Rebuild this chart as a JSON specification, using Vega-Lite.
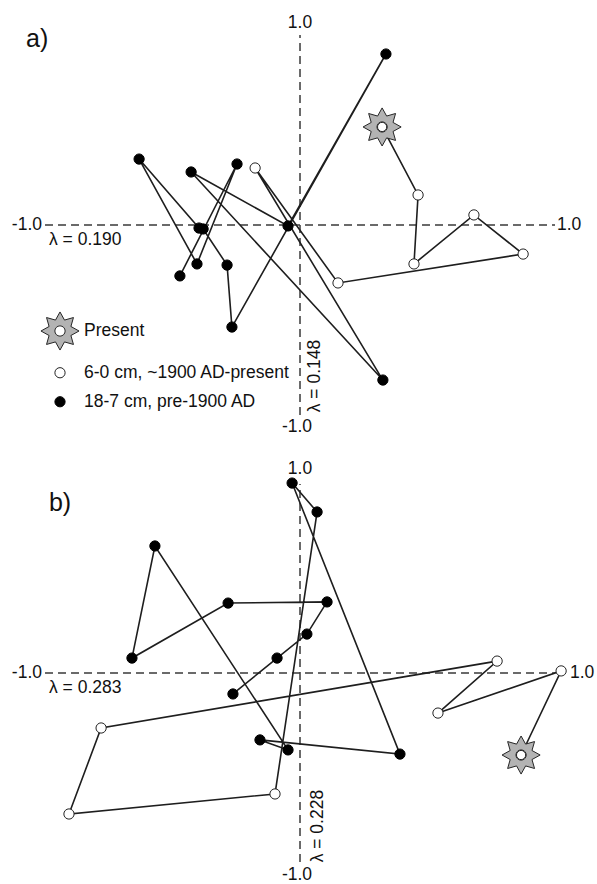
{
  "$schema": "https://vega.github.io/schema/vega-lite/v6.json",
  "padding": 0,
  "spacing": 0,
  "bounds": "flush",
  "background": "white",
  "config": {
    "view": {"stroke": null},
    "text": {"font": "Liberation Sans", "fontSize": 17.5, "color": "#111"},
    "rule": {"color": "#3a3a3a", "strokeWidth": 1.5, "strokeDash": [8, 5]},
    "line": {"color": "#1e1e1e", "strokeWidth": 1.6},
    "legend": {"orient": "none", "legendX": 40, "legendY": 311, "title": null, "padding": 0, "labelFont": "Liberation Sans", "labelFontSize": 17.5, "labelColor": "#111", "labelOffset": 4, "labelLimit": 400, "rowPadding": 10, "symbolStrokeWidth": 1}
  },
  "datasets": {
    "a": [
      {"depth": 18, "x": -0.471, "y": -0.268, "cat": "18-7 cm, pre-1900 AD"},
      {"depth": 17, "x": -0.247, "y": 0.321, "cat": "18-7 cm, pre-1900 AD"},
      {"depth": 16, "x": -0.404, "y": -0.205, "cat": "18-7 cm, pre-1900 AD"},
      {"depth": 15, "x": -0.631, "y": 0.347, "cat": "18-7 cm, pre-1900 AD"},
      {"depth": 14, "x": -0.396, "y": -0.016, "cat": "18-7 cm, pre-1900 AD"},
      {"depth": 13, "x": -0.380, "y": -0.021, "cat": "18-7 cm, pre-1900 AD"},
      {"depth": 12, "x": -0.286, "y": -0.211, "cat": "18-7 cm, pre-1900 AD"},
      {"depth": 11, "x": -0.267, "y": -0.537, "cat": "18-7 cm, pre-1900 AD"},
      {"depth": 10, "x": 0.337, "y": 0.900, "cat": "18-7 cm, pre-1900 AD"},
      {"depth": 9, "x": -0.047, "y": -0.005, "cat": "18-7 cm, pre-1900 AD"},
      {"depth": 8, "x": -0.427, "y": 0.279, "cat": "18-7 cm, pre-1900 AD"},
      {"depth": 7, "x": 0.325, "y": -0.816, "cat": "18-7 cm, pre-1900 AD"},
      {"depth": 6, "x": -0.176, "y": 0.300, "cat": "6-0 cm, ~1900 AD-present"},
      {"depth": 5, "x": 0.149, "y": -0.305, "cat": "6-0 cm, ~1900 AD-present"},
      {"depth": 4, "x": 0.875, "y": -0.153, "cat": "6-0 cm, ~1900 AD-present"},
      {"depth": 3, "x": 0.682, "y": 0.053, "cat": "6-0 cm, ~1900 AD-present"},
      {"depth": 2, "x": 0.447, "y": -0.205, "cat": "6-0 cm, ~1900 AD-present"},
      {"depth": 1, "x": 0.463, "y": 0.158, "cat": "6-0 cm, ~1900 AD-present"},
      {"depth": 0, "x": 0.322, "y": 0.516, "cat": "Present"}
    ],
    "b": [
      {"depth": 18, "x": -0.263, "y": -0.111, "cat": "18-7 cm, pre-1900 AD"},
      {"depth": 17, "x": -0.090, "y": 0.079, "cat": "18-7 cm, pre-1900 AD"},
      {"depth": 16, "x": 0.027, "y": 0.206, "cat": "18-7 cm, pre-1900 AD"},
      {"depth": 15, "x": 0.106, "y": 0.376, "cat": "18-7 cm, pre-1900 AD"},
      {"depth": 14, "x": -0.282, "y": 0.370, "cat": "18-7 cm, pre-1900 AD"},
      {"depth": 13, "x": -0.659, "y": 0.079, "cat": "18-7 cm, pre-1900 AD"},
      {"depth": 12, "x": -0.569, "y": 0.672, "cat": "18-7 cm, pre-1900 AD"},
      {"depth": 11, "x": -0.047, "y": -0.407, "cat": "18-7 cm, pre-1900 AD"},
      {"depth": 10, "x": -0.157, "y": -0.354, "cat": "18-7 cm, pre-1900 AD"},
      {"depth": 9, "x": 0.392, "y": -0.429, "cat": "18-7 cm, pre-1900 AD"},
      {"depth": 8, "x": -0.031, "y": 1.005, "cat": "18-7 cm, pre-1900 AD"},
      {"depth": 7, "x": 0.067, "y": 0.852, "cat": "18-7 cm, pre-1900 AD"},
      {"depth": 6, "x": -0.098, "y": -0.640, "cat": "6-0 cm, ~1900 AD-present"},
      {"depth": 5, "x": -0.906, "y": -0.746, "cat": "6-0 cm, ~1900 AD-present"},
      {"depth": 4, "x": -0.780, "y": -0.291, "cat": "6-0 cm, ~1900 AD-present"},
      {"depth": 3, "x": 0.773, "y": 0.063, "cat": "6-0 cm, ~1900 AD-present"},
      {"depth": 2, "x": 0.541, "y": -0.212, "cat": "6-0 cm, ~1900 AD-present"},
      {"depth": 1, "x": 1.024, "y": 0.011, "cat": "6-0 cm, ~1900 AD-present"},
      {"depth": 0, "x": 0.867, "y": -0.434, "cat": "Present"}
    ]
  },
  "vconcat": [
    {
      "width": 597,
      "height": 442,
      "layer": [
        {"data": {"values": [{}]}, "mark": "rule",
         "encoding": {"x": {"datum": -1, "scale": {"domain": [-1.1765, 1.1647], "nice": false, "zero": false}, "axis": null}, "x2": {"datum": 1},
                      "y": {"datum": 0, "scale": {"domain": [-1.1421, 1.1842], "nice": false, "zero": false}, "axis": null}}},
        {"data": {"values": [{}]}, "mark": "rule",
         "encoding": {"x": {"datum": 0, "scale": {"domain": [-1.1765, 1.1647], "nice": false, "zero": false}, "axis": null},
                      "y": {"datum": -1, "scale": {"domain": [-1.1421, 1.1842], "nice": false, "zero": false}, "axis": null}, "y2": {"datum": 1}}},
        {"data": {"name": "a"}, "mark": "line",
         "encoding": {"x": {"field": "x", "type": "quantitative", "scale": {"domain": [-1.1765, 1.1647], "nice": false, "zero": false}, "axis": null},
                      "y": {"field": "y", "type": "quantitative", "scale": {"domain": [-1.1421, 1.1842], "nice": false, "zero": false}, "axis": null},
                      "order": {"field": "depth", "type": "quantitative"}}},
        {"data": {"name": "a"}, "mark": {"type": "point", "filled": true, "opacity": 1, "strokeWidth": 1},
         "encoding": {"x": {"field": "x", "type": "quantitative", "scale": {"domain": [-1.1765, 1.1647], "nice": false, "zero": false}, "axis": null},
                      "y": {"field": "y", "type": "quantitative", "scale": {"domain": [-1.1421, 1.1842], "nice": false, "zero": false}, "axis": null},
                      "fill": {"field": "cat", "type": "nominal", "scale": {"domain": ["Present", "6-0 cm, ~1900 AD-present", "18-7 cm, pre-1900 AD"], "range": ["#b3b3b3", "#ffffff", "#000000"]}},
                      "stroke": {"field": "cat", "type": "nominal", "scale": {"domain": ["Present", "6-0 cm, ~1900 AD-present", "18-7 cm, pre-1900 AD"], "range": ["#262626", "#222222", "#000000"]}},
                      "shape": {"field": "cat", "type": "nominal", "scale": {"domain": ["Present", "6-0 cm, ~1900 AD-present", "18-7 cm, pre-1900 AD"], "range": ["M0,-1L0.237,-0.573L0.707,-0.707L0.573,-0.237L1,0L0.573,0.237L0.707,0.707L0.237,0.573L0,1L-0.237,0.573L-0.707,0.707L-0.573,0.237L-1,0L-0.573,-0.237L-0.707,-0.707L-0.237,-0.573ZM0.27,0A0.27,0.27 0 1,0 -0.27,0A0.27,0.27 0 1,0 0.27,0Z", "circle", "circle"]}},
                      "size": {"field": "cat", "type": "nominal", "scale": {"type": "ordinal", "domain": ["Present", "6-0 cm, ~1900 AD-present", "18-7 cm, pre-1900 AD"], "range": [1450, 105, 105]}}}},
        {"data": {"name": "a"}, "transform": [{"filter": "datum.cat === 'Present'"}],
         "mark": {"type": "point", "filled": true, "opacity": 1, "fill": "white", "stroke": "#222", "strokeWidth": 1, "size": 85, "shape": "circle"},
         "encoding": {"x": {"field": "x", "type": "quantitative", "scale": {"domain": [-1.1765, 1.1647], "nice": false, "zero": false}, "axis": null},
                      "y": {"field": "y", "type": "quantitative", "scale": {"domain": [-1.1421, 1.1842], "nice": false, "zero": false}, "axis": null}}},
        {"data": {"values": [{}]}, "mark": {"type": "text", "text": "1.0", "align": "center", "baseline": "bottom", "dy": -3},
         "encoding": {"x": {"datum": 0, "scale": {"domain": [-1.1765, 1.1647], "nice": false, "zero": false}, "axis": null}, "y": {"datum": 1, "scale": {"domain": [-1.1421, 1.1842], "nice": false, "zero": false}, "axis": null}}},
        {"data": {"values": [{}]}, "mark": {"type": "text", "text": "-1.0", "align": "center", "baseline": "top", "dy": 3, "dx": -3},
         "encoding": {"x": {"datum": 0, "scale": {"domain": [-1.1765, 1.1647], "nice": false, "zero": false}, "axis": null}, "y": {"datum": -1, "scale": {"domain": [-1.1421, 1.1842], "nice": false, "zero": false}, "axis": null}}},
        {"data": {"values": [{}]}, "mark": {"type": "text", "text": "-1.0", "align": "right", "baseline": "middle", "dx": -3},
         "encoding": {"x": {"datum": -1, "scale": {"domain": [-1.1765, 1.1647], "nice": false, "zero": false}, "axis": null}, "y": {"datum": 0, "scale": {"domain": [-1.1421, 1.1842], "nice": false, "zero": false}, "axis": null}}},
        {"data": {"values": [{}]}, "mark": {"type": "text", "text": "1.0", "align": "left", "baseline": "middle", "dx": 2},
         "encoding": {"x": {"datum": 1, "scale": {"domain": [-1.1765, 1.1647], "nice": false, "zero": false}, "axis": null}, "y": {"datum": 0, "scale": {"domain": [-1.1421, 1.1842], "nice": false, "zero": false}, "axis": null}}},
        {"data": {"values": [{}]}, "mark": {"type": "text", "text": "λ = 0.190", "align": "left", "baseline": "middle", "dx": 4, "dy": 15},
         "encoding": {"x": {"datum": -1, "scale": {"domain": [-1.1765, 1.1647], "nice": false, "zero": false}, "axis": null}, "y": {"datum": 0, "scale": {"domain": [-1.1421, 1.1842], "nice": false, "zero": false}, "axis": null}}},
        {"data": {"values": [{}]}, "mark": {"type": "text", "text": "λ = 0.148", "align": "center", "baseline": "middle", "angle": 270},
         "encoding": {"x": {"datum": 0.059, "scale": {"domain": [-1.1765, 1.1647], "nice": false, "zero": false}, "axis": null}, "y": {"datum": -0.795, "scale": {"domain": [-1.1421, 1.1842], "nice": false, "zero": false}, "axis": null}}},
        {"data": {"values": [{}]}, "mark": {"type": "text", "text": "a)", "align": "center", "baseline": "middle", "fontSize": 25},
         "encoding": {"x": {"datum": -1.031, "scale": {"domain": [-1.1765, 1.1647], "nice": false, "zero": false}, "axis": null}, "y": {"datum": 0.979, "scale": {"domain": [-1.1421, 1.1842], "nice": false, "zero": false}, "axis": null}}}
      ]
    },
    {
      "width": 597,
      "height": 442,
      "layer": [
        {"data": {"values": [{}]}, "mark": "rule",
         "encoding": {"x": {"datum": -1, "scale": {"domain": [-1.1765, 1.1647], "nice": false, "zero": false}, "axis": null}, "x2": {"datum": 1},
                      "y": {"datum": 0, "scale": {"domain": [-1.1164, 1.2222], "nice": false, "zero": false}, "axis": null}}},
        {"data": {"values": [{}]}, "mark": "rule",
         "encoding": {"x": {"datum": 0, "scale": {"domain": [-1.1765, 1.1647], "nice": false, "zero": false}, "axis": null},
                      "y": {"datum": -1, "scale": {"domain": [-1.1164, 1.2222], "nice": false, "zero": false}, "axis": null}, "y2": {"datum": 1}}},
        {"data": {"name": "b"}, "mark": "line",
         "encoding": {"x": {"field": "x", "type": "quantitative", "scale": {"domain": [-1.1765, 1.1647], "nice": false, "zero": false}, "axis": null},
                      "y": {"field": "y", "type": "quantitative", "scale": {"domain": [-1.1164, 1.2222], "nice": false, "zero": false}, "axis": null},
                      "order": {"field": "depth", "type": "quantitative"}}},
        {"data": {"name": "b"}, "mark": {"type": "point", "filled": true, "opacity": 1, "strokeWidth": 1},
         "encoding": {"x": {"field": "x", "type": "quantitative", "scale": {"domain": [-1.1765, 1.1647], "nice": false, "zero": false}, "axis": null},
                      "y": {"field": "y", "type": "quantitative", "scale": {"domain": [-1.1164, 1.2222], "nice": false, "zero": false}, "axis": null},
                      "fill": {"field": "cat", "type": "nominal", "scale": {"domain": ["Present", "6-0 cm, ~1900 AD-present", "18-7 cm, pre-1900 AD"], "range": ["#b3b3b3", "#ffffff", "#000000"]}},
                      "stroke": {"field": "cat", "type": "nominal", "scale": {"domain": ["Present", "6-0 cm, ~1900 AD-present", "18-7 cm, pre-1900 AD"], "range": ["#262626", "#222222", "#000000"]}},
                      "shape": {"field": "cat", "type": "nominal", "scale": {"domain": ["Present", "6-0 cm, ~1900 AD-present", "18-7 cm, pre-1900 AD"], "range": ["M0,-1L0.237,-0.573L0.707,-0.707L0.573,-0.237L1,0L0.573,0.237L0.707,0.707L0.237,0.573L0,1L-0.237,0.573L-0.707,0.707L-0.573,0.237L-1,0L-0.573,-0.237L-0.707,-0.707L-0.237,-0.573ZM0.27,0A0.27,0.27 0 1,0 -0.27,0A0.27,0.27 0 1,0 0.27,0Z", "circle", "circle"]}},
                      "size": {"field": "cat", "type": "nominal", "scale": {"type": "ordinal", "domain": ["Present", "6-0 cm, ~1900 AD-present", "18-7 cm, pre-1900 AD"], "range": [1450, 105, 105]}}}},
        {"data": {"name": "b"}, "transform": [{"filter": "datum.cat === 'Present'"}],
         "mark": {"type": "point", "filled": true, "opacity": 1, "fill": "white", "stroke": "#222", "strokeWidth": 1, "size": 85, "shape": "circle"},
         "encoding": {"x": {"field": "x", "type": "quantitative", "scale": {"domain": [-1.1765, 1.1647], "nice": false, "zero": false}, "axis": null},
                      "y": {"field": "y", "type": "quantitative", "scale": {"domain": [-1.1164, 1.2222], "nice": false, "zero": false}, "axis": null}}},
        {"data": {"values": [{}]}, "mark": {"type": "text", "text": "1.0", "align": "center", "baseline": "bottom", "dy": -6},
         "encoding": {"x": {"datum": 0, "scale": {"domain": [-1.1765, 1.1647], "nice": false, "zero": false}, "axis": null}, "y": {"datum": 1, "scale": {"domain": [-1.1164, 1.2222], "nice": false, "zero": false}, "axis": null}}},
        {"data": {"values": [{}]}, "mark": {"type": "text", "text": "-1.0", "align": "center", "baseline": "top", "dy": 4, "dx": -3},
         "encoding": {"x": {"datum": 0, "scale": {"domain": [-1.1765, 1.1647], "nice": false, "zero": false}, "axis": null}, "y": {"datum": -1, "scale": {"domain": [-1.1164, 1.2222], "nice": false, "zero": false}, "axis": null}}},
        {"data": {"values": [{}]}, "mark": {"type": "text", "text": "-1.0", "align": "right", "baseline": "middle", "dx": -3},
         "encoding": {"x": {"datum": -1, "scale": {"domain": [-1.1765, 1.1647], "nice": false, "zero": false}, "axis": null}, "y": {"datum": 0, "scale": {"domain": [-1.1164, 1.2222], "nice": false, "zero": false}, "axis": null}}},
        {"data": {"values": [{}]}, "mark": {"type": "text", "text": "1.0", "align": "left", "baseline": "middle", "dx": 15},
         "encoding": {"x": {"datum": 1, "scale": {"domain": [-1.1765, 1.1647], "nice": false, "zero": false}, "axis": null}, "y": {"datum": 0, "scale": {"domain": [-1.1164, 1.2222], "nice": false, "zero": false}, "axis": null}}},
        {"data": {"values": [{}]}, "mark": {"type": "text", "text": "λ = 0.283", "align": "left", "baseline": "middle", "dx": 4, "dy": 15},
         "encoding": {"x": {"datum": -1, "scale": {"domain": [-1.1765, 1.1647], "nice": false, "zero": false}, "axis": null}, "y": {"datum": 0, "scale": {"domain": [-1.1164, 1.2222], "nice": false, "zero": false}, "axis": null}}},
        {"data": {"values": [{}]}, "mark": {"type": "text", "text": "λ = 0.228", "align": "center", "baseline": "middle", "angle": 270},
         "encoding": {"x": {"datum": 0.0706, "scale": {"domain": [-1.1765, 1.1647], "nice": false, "zero": false}, "axis": null}, "y": {"datum": -0.81, "scale": {"domain": [-1.1164, 1.2222], "nice": false, "zero": false}, "axis": null}}},
        {"data": {"values": [{}]}, "mark": {"type": "text", "text": "b)", "align": "center", "baseline": "middle", "fontSize": 25},
         "encoding": {"x": {"datum": -0.941, "scale": {"domain": [-1.1765, 1.1647], "nice": false, "zero": false}, "axis": null}, "y": {"datum": 0.899, "scale": {"domain": [-1.1164, 1.2222], "nice": false, "zero": false}, "axis": null}}}
      ]
    }
  ]
}
